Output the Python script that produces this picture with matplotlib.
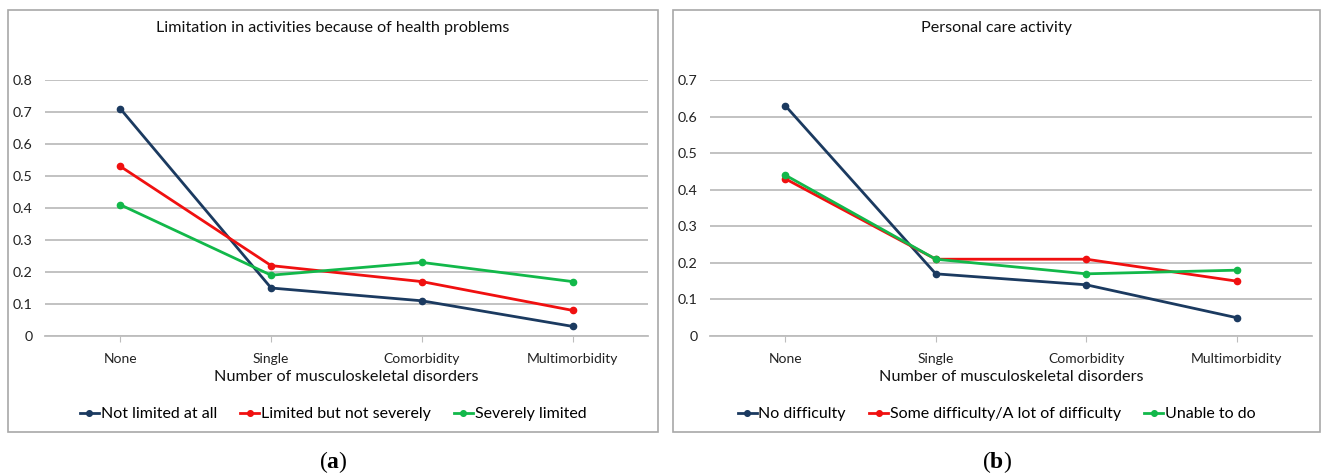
import matplotlib
matplotlib.use("Agg")
import matplotlib.pyplot as plt
from matplotlib.patches import Rectangle
from matplotlib.ticker import FuncFormatter

plt.rcParams['font.family'] = ['Lato', 'DejaVu Sans']
plt.rcParams['mathtext.fontset'] = 'custom'
plt.rcParams['mathtext.rm'] = 'Liberation Serif'
plt.rcParams['mathtext.bf'] = 'Liberation Serif:bold'

categories = ["None", "Single", "Comorbidity", "Multimorbidity"]

# Panel (a): limitation in activities
title_a = "Limitation in activities because of health problems"
labels_a = ["Not limited at all", "Limited but not severely", "Severely limited"]
not_limited = [0.71, 0.15, 0.11, 0.03]
limited_not_severely = [0.53, 0.22, 0.17, 0.08]
severely_limited = [0.41, 0.19, 0.23, 0.17]
yticks_a = [0, 0.1, 0.2, 0.3, 0.4, 0.5, 0.6, 0.7, 0.8]

# Panel (b): personal care activity
title_b = "Personal care activity"
labels_b = ["No difficulty", "Some difficulty/A lot of difficulty", "Unable to do"]
no_difficulty = [0.63, 0.17, 0.14, 0.05]
some_difficulty = [0.43, 0.21, 0.21, 0.15]
unable_to_do = [0.44, 0.21, 0.17, 0.18]
yticks_b = [0, 0.1, 0.2, 0.3, 0.4, 0.5, 0.6, 0.7]

xlabel = "Number of musculoskeletal disorders"
colors = ["#1B3A60", "#F01010", "#12B84A"]

W, H = 1322, 475
fig = plt.figure(figsize=(W / 100, H / 100), dpi=100)

def fx(px):
    return px / W

def fy(py):
    return 1 - py / H

def panel(box, ax_rect, title, series, labels, yticks, tag):
    bx0, by0, bx1, by1 = box
    fig.patches.append(Rectangle((fx(bx0), fy(by1)), fx(bx1 - bx0), (by1 - by0) / H,
                                 transform=fig.transFigure, fill=False,
                                 edgecolor="#A8A8A8", linewidth=1.2))
    x0, y0, x1, y1 = ax_rect
    ax = fig.add_axes([fx(x0), fy(y1), fx(x1 - x0), (y1 - y0) / H])
    xs = list(range(len(categories)))
    for vals, lab, c in zip(series, labels, colors):
        ax.plot(xs, vals, color=c, linewidth=2, marker="o", markersize=4.5, label=lab)
    ax.set_xlim(-0.5, len(categories) - 0.5)
    ax.set_ylim(0, yticks[-1])
    ax.set_yticks(yticks)
    ax.yaxis.set_major_formatter(FuncFormatter(lambda v, p: "0" if v == 0 else f"{v:.1f}"))
    ax.set_xticks(xs)
    ax.set_xticklabels(categories)
    ax.grid(axis="y", color="#BDBDBD", linewidth=1.3)
    ax.set_axisbelow(True)
    for s in ["top", "right", "left"]:
        ax.spines[s].set_visible(False)
    ax.spines["bottom"].set_color("#BDBDBD")
    ax.spines["bottom"].set_linewidth(1.3)
    ax.tick_params(axis="y", length=0, pad=9, labelsize=10.3, labelcolor="#222222")
    ax.tick_params(axis="x", length=4, color="#BDBDBD", pad=8, labelsize=10, labelcolor="#222222")
    ax.set_xlabel(xlabel, fontsize=11.7, color="#111111", labelpad=4)
    cx = (bx0 + bx1) / 2
    fig.text(fx(cx), fy(28), title, ha="center", va="center", fontsize=11.6, color="#111111")
    handles, labs = ax.get_legend_handles_labels()
    fig.legend(handles, labs, loc="center", bbox_to_anchor=(fx(cx), fy(414)), ncol=3,
               frameon=False, fontsize=11.5, handlelength=1.2, handletextpad=0.1,
               columnspacing=1.45, markerscale=0.9)
    fig.text(fx(cx), fy(462), r"$(\mathbf{" + tag + r"})$", ha="center", va="center", fontsize=17)
    return ax

panel((8, 10, 658, 432), (45, 80, 648, 336), title_a,
      [not_limited, limited_not_severely, severely_limited], labels_a, yticks_a, "a")
panel((673, 10, 1320, 432), (710, 80, 1312, 336), title_b,
      [no_difficulty, some_difficulty, unable_to_do], labels_b, yticks_b, "b")

fig.savefig("out.png", dpi=100)
